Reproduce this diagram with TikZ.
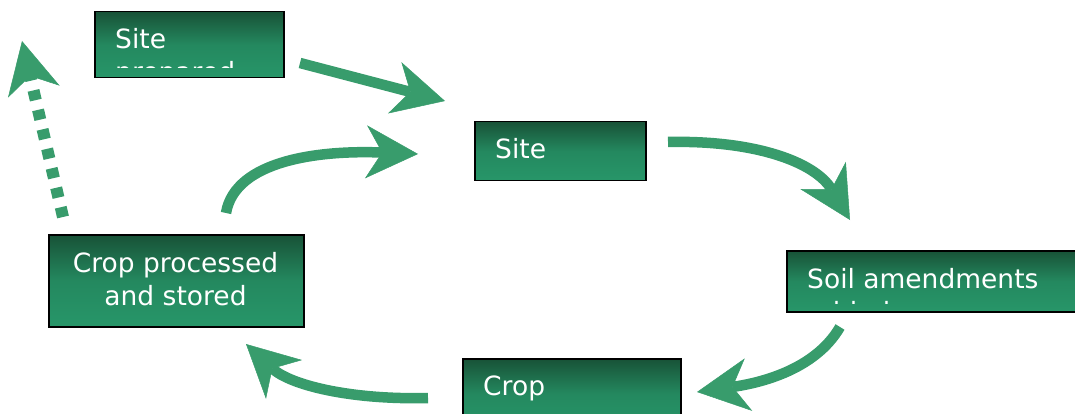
\documentclass[tikz,border=0pt]{standalone}
\usepackage{fontspec}
\setmainfont{DejaVu Sans}
\usetikzlibrary{arrows.meta}
\definecolor{boxdark}{RGB}{24,82,55}
\definecolor{boxlight}{RGB}{39,150,105}
\definecolor{arrowgreen}{RGB}{56,156,108}
\begin{document}
\begin{tikzpicture}[x=1pt, y=-1pt,
  stagebox/.style={draw=black, line width=1.5pt, anchor=north west, inner sep=0pt,
                   top color=boxdark, bottom color=boxlight, middle color=boxlight!80!boxdark},
  stagetext/.style={text=white, font=\fontsize{26.5}{33}\selectfont, inner sep=0pt,
                    align=left, anchor=base west},
  flow/.style={draw=arrowgreen, line width=10.5pt,
               -{Stealth[length=52pt, width=53pt, inset=16pt, line width=0.5pt]}}]
  \clip (0,0) rectangle (1075,414);
  \node[stagebox, minimum width=189pt, minimum height=66pt] (prep) at (94,11) {};
  \node[stagebox, minimum width=171pt, minimum height=59pt] (site) at (474,121) {};
  \node[stagebox, minimum width=320pt, minimum height=61pt] (soil) at (786,250) {};
  \node[stagebox, minimum width=218pt, minimum height=70pt] (crop) at (462,358) {};
  \node[stagebox, minimum width=255pt, minimum height=92pt] (store) at (48,234) {};
  \begin{scope}
    \clip (prep.north west) rectangle ([yshift=11pt]prep.south east);
    \node[stagetext] (preptext) at (115,82) {Site\\prepared};
  \end{scope}
  \begin{scope}
    \clip (soil.north west) rectangle ([yshift=9pt]soil.south east);
    \node[stagetext] (soiltext) at (807,321) {Soil amendments\\added};
  \end{scope}
  \node[stagetext] (sitetext) at (495,159) {Site};
  \node[stagetext] (croptext) at (483,395) {Crop};
  \node[stagetext, align=center, anchor=base] (storetext) at (175.5,305) {Crop processed\\and stored};
  \coordinate (prepout) at (300,63);
  \coordinate (sitein) at (445,101);
  \coordinate (siteout) at (668,142);
  \coordinate (soilin) at (850,220);
  \coordinate (soilout) at (840,327);
  \coordinate (cropin) at (697,392);
  \coordinate (cropout) at (428,398);
  \coordinate (storein) at (246,344);
  \coordinate (storeout) at (226,213);
  \coordinate (siteback) at (418,154);
  \coordinate (leaveout) at (63,217);
  \coordinate (leavein) at (22,41);
  \draw[flow] (prepout) -- (sitein);
  \draw[flow] (siteout) .. controls (755,140) and (815,162) .. (soilin);
  \draw[flow] (soilout) .. controls (815,370) and (760,383) .. (cropin);
  \draw[flow] (cropout) .. controls (350,400) and (290,385) .. (storein);
  \draw[flow] (storeout) .. controls (235,160) and (320,150) .. (siteback);
  \draw[flow, line width=12pt, dash pattern=on 10pt off 10pt] (leaveout) -- (leavein);
\end{tikzpicture}
\end{document}
